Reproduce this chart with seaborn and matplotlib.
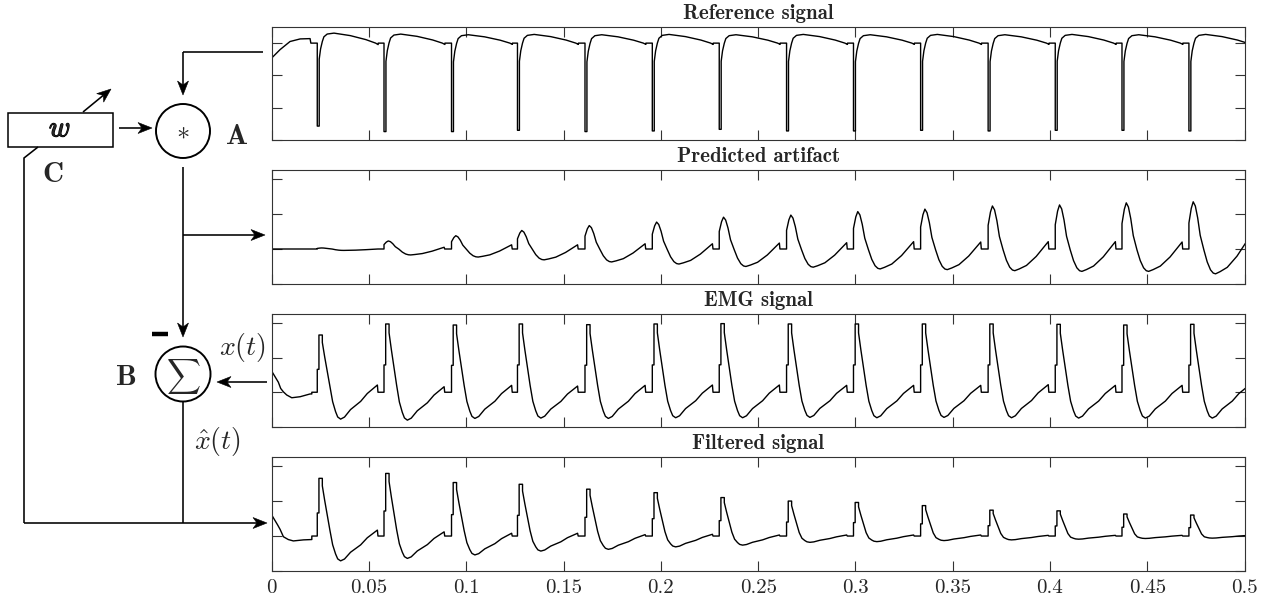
import numpy as np
import pandas as pd
import matplotlib
matplotlib.use("Agg")
import matplotlib.pyplot as plt
import seaborn as sns
from matplotlib.patches import Circle, Rectangle, Polygon
import matplotlib.patheffects as pe

# ---------------- data ----------------
# stimulation instants (s)
spike_times = [0.0234, 0.0577, 0.0924, 0.1263, 0.1610, 0.1956, 0.2300,
               0.2646, 0.2990, 0.3335, 0.3682, 0.4027, 0.4370, 0.4714]

x_ticks = [0, 0.05, 0.1, 0.15, 0.2, 0.25, 0.3, 0.35, 0.4, 0.45, 0.5]
x_tick_labels = ["0", "0.05", "0.1", "0.15", "0.2", "0.25", "0.3",
                 "0.35", "0.4", "0.45", "0.5"]
y_ticks = [0, 1, 2, 3]
titles = ["Reference signal", "Predicted artifact", "EMG signal", "Filtered signal"]

# Reference signal
ref_init_t = [0.0, 0.0043, 0.0094, 0.0146, 0.0197, 0.0201]
ref_init_y = [2.54, 2.80, 3.05, 3.13, 3.14, 3.00]
ref_base = 3.0
ref_low = [0.43, 0.26, 0.26, 0.30, 0.26, 0.28, 0.33, 0.28, 0.28, 0.30, 0.28, 0.30, 0.30, 0.28]
ref_peak = [3.31, 3.28, 3.26, 3.27, 3.26, 3.27, 3.26, 3.27, 3.26, 3.27, 3.26, 3.27, 3.26, 3.27]
# cycle outline: (ms after spike, from-level, to-level, fraction)
ref_cycle = [(0.0, "base", "base", 0), (0.0, "low", "low", 0), (1.0, "low", "low", 0),
             (1.0, "low", "peak", 0.72), (1.7, "low", "peak", 0.83), (2.6, "low", "peak", 0.91),
             (3.4, "low", "peak", 0.96), (5.1, "low", "peak", 0.99), (8.6, "peak", "peak", 0),
             (17.0, "base", "peak", 0.75), (25.0, "base", "peak", 0.35),
             (30.0, "base", "peak", 0.0), (31.3, "base", "peak", -0.15), (31.3, "base", "base", 0)]

# Predicted artifact
pred_init_t = [0.0]
pred_init_y = [1.0]
pred_base = 1.0
pred_peak = [1.03, 1.23, 1.38, 1.53, 1.67, 1.77, 1.91, 1.97, 2.07, 2.14, 2.23, 2.26, 2.32, 2.35]
pred_trough = [0.96, 0.83, 0.77, 0.69, 0.63, 0.57, 0.50, 0.48, 0.43, 0.41, 0.38, 0.36, 0.36, 0.29]
pred_pre = [1.00, 1.05, 1.12, 1.12, 1.15, 1.15, 1.17, 1.18, 1.21, 1.20, 1.21, 1.21, 1.20, 1.32]
pred_cycle = [(0.0, "base", "base", 0), (0.0, "base", "peak", 0.55), (1.2, "base", "peak", 0.86),
              (2.2, "base", "peak", 1.0), (3.3, "base", "peak", 0.91), (4.5, "base", "peak", 0.66),
              (5.8, "base", "peak", 0.29), (7.7, "base", "trough", 0.04), (9.4, "base", "trough", 0.52),
              (11.1, "base", "trough", 0.84), (12.5, "base", "trough", 0.97), (13.7, "trough", "trough", 0),
              (16.0, "trough", "pre", 0.06), (19.7, "trough", "pre", 0.18), (24.7, "trough", "pre", 0.49),
              (30.9, "trough", "pre", 1.0), (31.2, "base", "base", 0)]

# EMG signal
emg_init_t = [0.0, 0.0034, 0.0046, 0.0060, 0.0077, 0.0103, 0.0146, 0.0197, 0.0206, 0.0206]
emg_init_y = [1.61, 1.29, 1.11, 1.01, 0.92, 0.84, 0.87, 0.95, 0.95, 1.00]
emg_base = 1.0
emg_peak = [2.66, 2.98, 2.95, 2.98, 2.96, 2.98, 2.99, 2.98, 2.98, 2.98, 2.98, 2.97, 2.95, 2.97]
emg_trough = [0.22, 0.19, 0.24, 0.25, 0.24, 0.26, 0.26, 0.27, 0.26, 0.27, 0.26, 0.25, 0.25, 0.25]
emg_pre = [1.21, 1.16, 1.20, 1.18, 1.20, 1.21, 1.21, 1.20, 1.20, 1.20, 1.22, 1.20, 1.20, 1.20]
emg_cycle = [(0.0, "base", "base", 0), (0.0, "base", "peak", 0.40), (0.86, "base", "peak", 0.40),
             (0.86, "peak", "peak", 0), (2.6, "peak", "peak", 0), (2.6, "base", "peak", 0.87),
             (3.8, "base", "peak", 0.62), (5.1, "base", "peak", 0.37), (6.5, "base", "peak", 0.10),
             (7.9, "base", "trough", 0.35), (9.4, "base", "trough", 0.72), (10.5, "base", "trough", 0.92),
             (12.0, "trough", "trough", 0), (14.0, "trough", "pre", 0.06), (17.1, "trough", "pre", 0.28),
             (22.3, "trough", "pre", 0.52), (25.7, "trough", "pre", 0.75), (30.9, "trough", "pre", 1.0),
             (31.2, "base", "base", 0)]

# Filtered signal
filt_init_t = [0.0, 0.0030, 0.0043, 0.0060, 0.0085, 0.0111, 0.0163, 0.0197, 0.0206, 0.0206]
filt_init_y = [1.60, 1.32, 1.19, 0.98, 0.90, 0.86, 0.89, 0.90, 0.90, 1.00]
filt_base = 1.0
filt_peak = [2.65, 2.79, 2.53, 2.48, 2.34, 2.24, 2.10, 2.00, 1.96, 1.87, 1.74, 1.72, 1.63, 1.60]
filt_trough = [0.29, 0.36, 0.46, 0.57, 0.62, 0.69, 0.74, 0.82, 0.84, 0.87, 0.89, 0.91, 0.93, 0.94]
filt_pre = [1.17, 1.12, 1.08, 1.08, 1.04, 1.05, 1.03, 1.03, 1.03, 1.03, 1.02, 1.02, 1.02, 1.02]


def build(init_t, init_y, cycle, levels):
    t, y = list(init_t), list(init_y)
    for k, ts in enumerate(spike_times):
        lv = {n: (v[k] if isinstance(v, list) else v) for n, v in levels.items()}
        for off, a, b, f in cycle:
            t.append(ts + off / 1000.0)
            y.append(lv[a] + f * (lv[b] - lv[a]))
    return pd.DataFrame({"t": t, "y": y})


signals = [
    build(ref_init_t, ref_init_y, ref_cycle,
          {"base": ref_base, "low": ref_low, "peak": ref_peak}),
    build(pred_init_t, pred_init_y, pred_cycle,
          {"base": pred_base, "peak": pred_peak, "trough": pred_trough, "pre": pred_pre}),
    build(emg_init_t, emg_init_y, emg_cycle,
          {"base": emg_base, "peak": emg_peak, "trough": emg_trough, "pre": emg_pre}),
    build(filt_init_t, filt_init_y, emg_cycle,
          {"base": filt_base, "peak": filt_peak, "trough": filt_trough, "pre": filt_pre}),
]
y_limits = [(0, 3.5), (0, 3.26), (0, 3.26), (0, 3.26)]

# ---------------- figure ----------------
sns.set_style("white")
plt.rcParams["mathtext.fontset"] = "cm"
plt.rcParams["axes.formatter.use_mathtext"] = True
plt.rcParams["ytick.left"] = True
plt.rcParams["xtick.bottom"] = True

fig = plt.figure(figsize=(12.71, 6.01), dpi=100)
L, W = 0.2138, 0.7654
boxes = [(0.7671, 0.1880), (0.5275, 0.1897), (0.2900, 0.1870), (0.0499, 0.1897)]
AX_COL = "#333333"

for i, (df, (b, h)) in enumerate(zip(signals, boxes)):
    ax = fig.add_axes([L, b, W, h])
    sns.lineplot(data=df, x="t", y="y", ax=ax, sort=False, estimator=None,
                 color="black", lw=1.0)
    ax.set_xlim(0, 0.5)
    ax.set_ylim(*y_limits[i])
    ax.set_xlabel("")
    ax.set_ylabel("")
    ax.set_xticks(x_ticks)
    ax.set_yticks(y_ticks)
    ax.set_xticklabels(x_tick_labels, fontfamily="cmr10", fontsize=15)
    ax.tick_params(which="both", direction="in", top=True, right=True, left=True,
                   bottom=True, length=7, width=0.8, color=AX_COL, labelleft=False,
                   labelbottom=(i == 3), pad=6)
    ax.yaxis.set_ticks_position("both")
    ax.xaxis.set_ticks_position("both")
    for s in ax.spines.values():
        s.set_color(AX_COL)
        s.set_linewidth(0.8)
    ax.set_title(titles[i], fontfamily="cmb10", fontsize=15, pad=6)

# ---------------- block diagram (pixel coordinates) ----------------
ov = fig.add_axes([0, 0, 1, 1], facecolor="none")
ov.set_xlim(0, 1271)
ov.set_ylim(601, 0)
ov.axis("off")
LWD = 1.15


def line(xs, ys, lw=LWD):
    ov.plot(xs, ys, color="black", lw=lw, solid_capstyle="butt", solid_joinstyle="miter")


def arrow(x0, y0, x1, y1, hl=14.0, hw=5.5, notch=4.0):
    d = np.array([x1 - x0, y1 - y0], float)
    d /= np.hypot(*d)
    n = np.array([-d[1], d[0]])
    tip = np.array([x1, y1], float)
    back = tip - hl * d
    mid = tip - (hl - notch) * d
    line([x0, mid[0]], [y0, mid[1]])
    ov.add_patch(Polygon([tip, back + hw * n, mid, back - hw * n], closed=True,
                         fc="black", ec="black", lw=0.4))


# reference input to A
line([263, 183], [52, 52])
arrow(183, 52, 183, 95)
# adaptive weights box
ov.add_patch(Rectangle((8, 113), 105, 34, fill=False, ec="black", lw=1.1))
arrow(83, 112, 111, 89)
ov.text(60, 128.5, r"$w$", ha="center", va="center", fontsize=21,
        path_effects=[pe.withStroke(linewidth=0.9, foreground="black")])
arrow(119, 128, 152, 128)
# multiplier A
ov.add_patch(Circle((183, 131), 27, fill=False, ec="black", lw=1.4))
ov.text(183, 132, r"$\ast$", ha="center", va="center", fontsize=19)
ov.text(237, 137.5, "A", ha="center", va="center", fontsize=21, fontfamily="cmb10")
ov.text(53, 175, "C", ha="center", va="center", fontsize=21, fontfamily="cmb10")
# A -> B, branch to predicted artifact
arrow(183, 167, 183, 337)
arrow(183, 235, 265, 235)
# summation B
ov.add_patch(Circle((183, 374), 27.5, fill=False, ec="black", lw=1.4))
ov.text(183, 376, r"$\sum$", ha="center", va="center", fontsize=17)
line([152, 168], [334, 334], lw=3.2)
ov.text(126, 378, "B", ha="center", va="center", fontsize=21, fontfamily="cmb10")
ov.text(242, 348, r"$x(t)$", ha="center", va="center", fontsize=20)
arrow(267, 382, 217, 382)
# output and feedback
line([183, 183], [402, 523])
ov.text(217, 441, r"$\hat{x}(t)$", ha="center", va="center", fontsize=20)
line([38, 24, 24], [147, 158, 523])
arrow(24, 523, 267, 523)

fig.savefig("out.png", dpi=100)
